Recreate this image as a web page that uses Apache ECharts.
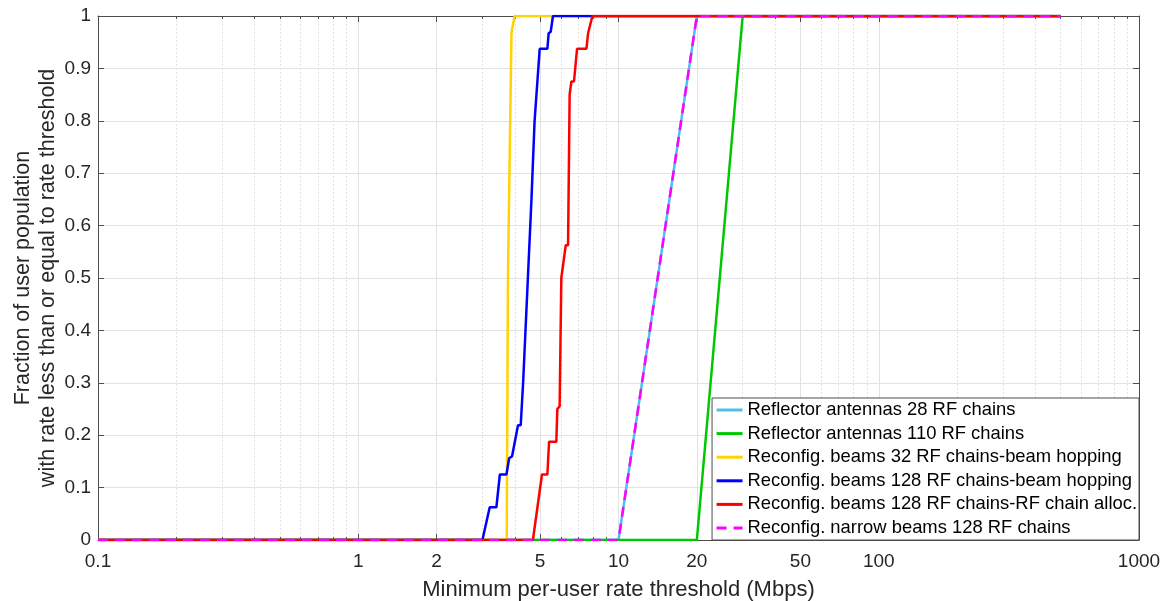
<!DOCTYPE html>
<html>
<head>
<meta charset="utf-8">
<script src="https://cdn.jsdelivr.net/npm/echarts@6/dist/echarts.min.js"></script>
<style>html,body{margin:0;padding:0;background:#fff;}#c{width:1175px;height:601px;}</style>
</head>
<body>
<div id="c"></div>
<script>
// ---- data (x in Mbps, y = CDF fraction) ----
const seriesNames = [
  'Reflector antennas 28 RF chains',
  'Reflector antennas 110 RF chains',
  'Reconfig. beams 32 RF chains-beam hopping',
  'Reconfig. beams 128 RF chains-beam hopping',
  'Reconfig. beams 128 RF chains-RF chain alloc.',
  'Reconfig. narrow beams 128 RF chains'
];
const refl28X = [0.1, 10, 20, 500];
const refl28Y = [0, 0, 1, 1];
const refl110X = [0.1, 20, 30, 500];
const refl110Y = [0, 0, 1, 1];
const beams32X = [0.1, 3.72, 3.76, 3.88, 3.99, 500];
const beams32Y = [0, 0, 0.5, 0.969, 1, 1];
const beams128hopX = [0.1, 3.0, 3.2, 3.395, 3.5, 3.71, 3.8, 3.9, 4.11, 4.21, 4.3, 4.63, 4.76, 4.98, 5.33, 5.39, 5.49, 5.6, 500];
const beams128hopY = [0, 0, 0.0625, 0.0625, 0.125, 0.125, 0.156, 0.16, 0.219, 0.219, 0.3, 0.65, 0.8, 0.9375, 0.9375, 0.967, 0.97, 1, 1];
const beams128rfX = [0.1, 4.69, 5.08, 5.33, 5.41, 5.77, 5.82, 5.94, 6.03, 6.27, 6.4, 6.49, 6.59, 6.745, 6.93, 7.53, 7.64, 7.75, 7.94, 500];
const beams128rfY = [0, 0, 0.125, 0.125, 0.1875, 0.1875, 0.25, 0.255, 0.5, 0.5625, 0.5625, 0.85, 0.875, 0.875, 0.9375, 0.9375, 0.967, 0.97, 1, 1];
const narrowX = [0.1, 10, 20, 500];
const narrowY = [0, 0, 1, 1];

const xTickValues = [0.1, 1, 2, 5, 10, 20, 50, 100, 1000];
const xTickLabels = ['0.1', '1', '2', '5', '10', '20', '50', '100', '1000'];

// ---- helpers ----
const lg = v => Math.round(Math.log10(v) * 1e10) / 1e10;
const majorPos = xTickValues.map(lg);
const minorPos = [];
for (let d = -1; d <= 2; d++) {
  for (let k = 2; k <= 9; k++) {
    const p = lg(k * Math.pow(10, d));
    if (!majorPos.some(m => Math.abs(m - p) < 1e-6)) minorPos.push(p);
  }
}
const pts = (xs, ys) => xs.map((x, i) => [lg(x), ys[i]]);

const AX = '#4d4d4d';
const TXT = '#262626';
const FONT = 'Liberation Sans, Arial, sans-serif';
const colors = ['#4DBEEE', '#00C800', '#FFD200', '#0000FF', '#FF0000', '#FF00FF'];
const dataSets = [
  pts(refl28X, refl28Y), pts(refl110X, refl110Y), pts(beams32X, beams32Y),
  pts(beams128hopX, beams128hopY), pts(beams128rfX, beams128rfY), pts(narrowX, narrowY)
];

function labelFor(v) {
  let best = 0, bd = 1e9;
  majorPos.forEach((m, i) => { const d = Math.abs(m - v); if (d < bd) { bd = d; best = i; } });
  return xTickLabels[best];
}

const baseX = { type: 'value', min: -1, max: 3, gridIndex: 0 };
const chart = echarts.init(document.getElementById('c'), null, { renderer: 'canvas' });
chart.setOption({
  animation: false,
  backgroundColor: '#ffffff',
  textStyle: { fontFamily: FONT },
  grid: { left: 98, right: 36, top: 16, bottom: 61, containLabel: false, outerBoundsMode: 'none' },
  xAxis: [
    Object.assign({}, baseX, {
      position: 'bottom',
      name: 'Minimum per-user rate threshold (Mbps)',
      nameLocation: 'middle', nameGap: 38, nameMoveOverlap: false,
      nameTextStyle: { fontSize: 22, lineHeight: 24, color: TXT, fontFamily: FONT },
      axisLine: { show: true, onZero: false, lineStyle: { color: AX, width: 1 } },
      axisTick: { show: true, inside: true, length: 6, customValues: majorPos, lineStyle: { color: AX } },
      axisLabel: { show: true, customValues: majorPos, formatter: v => labelFor(v), fontSize: 19, color: TXT, margin: 12, fontFamily: FONT },
      splitLine: { show: true, lineStyle: { color: '#e2e2e2', width: 1 } }
    }),
    Object.assign({}, baseX, {
      position: 'bottom',
      axisLine: { show: false, onZero: false },
      axisTick: { show: true, inside: true, length: 3, customValues: minorPos, lineStyle: { color: AX } },
      axisLabel: { show: false },
      splitLine: { show: true, lineStyle: { color: '#e4e4e4', width: 1, type: [2, 2] } }
    }),
    Object.assign({}, baseX, {
      position: 'top',
      axisLine: { show: true, onZero: false, lineStyle: { color: AX, width: 1 } },
      axisTick: { show: true, inside: true, length: 6, customValues: majorPos, lineStyle: { color: AX } },
      axisLabel: { show: false },
      splitLine: { show: false }
    }),
    Object.assign({}, baseX, {
      position: 'top',
      axisLine: { show: false, onZero: false },
      axisTick: { show: true, inside: true, length: 3, customValues: minorPos, lineStyle: { color: AX } },
      axisLabel: { show: false },
      splitLine: { show: false }
    })
  ],
  yAxis: [
    {
      type: 'value', min: 0, max: 1, interval: 0.1, position: 'left',
      name: 'Fraction of user population\nwith rate less than or equal to rate threshold',
      nameLocation: 'middle', nameGap: 38, nameRotate: 90, nameMoveOverlap: false,
      nameTextStyle: { fontSize: 21.5, color: TXT, lineHeight: 24.5, fontFamily: FONT },
      axisLine: { show: true, onZero: false, lineStyle: { color: AX, width: 1 } },
      axisTick: { show: true, inside: true, length: 6, lineStyle: { color: AX } },
      axisLabel: { fontSize: 19, color: TXT, margin: 7, fontFamily: FONT, formatter: v => String(Math.round(v * 10) / 10) },
      splitLine: { show: true, lineStyle: { color: '#e2e2e2', width: 1 } }
    },
    {
      type: 'value', min: 0, max: 1, interval: 0.1, position: 'right',
      axisLine: { show: true, onZero: false, lineStyle: { color: AX, width: 1 } },
      axisTick: { show: true, inside: true, length: 6, lineStyle: { color: AX } },
      axisLabel: { show: false },
      splitLine: { show: false }
    }
  ],
  legend: {
    orient: 'vertical',
    right: 36, bottom: 61,
    backgroundColor: '#ffffff',
    borderColor: AX, borderWidth: 1,
    padding: [3, 2, 3, 3],
    itemGap: 5.6,
    itemWidth: 26, itemHeight: 20,
    itemStyle: { opacity: 0 },
    lineStyle: { width: 3 },
    textStyle: { fontSize: 18.4, color: '#000', fontFamily: FONT },
    data: seriesNames
  },
  series: dataSets.map((d, i) => ({
    name: seriesNames[i],
    type: 'line',
    xAxisIndex: 0, yAxisIndex: 0,
    data: d,
    symbol: 'none', showSymbol: false,
    lineStyle: { color: colors[i], width: 2.5, type: i === 5 ? [10, 7] : 'solid' },
    itemStyle: { color: colors[i] },
    z: 2 + i
  }))
});
</script>
</body>
</html>
